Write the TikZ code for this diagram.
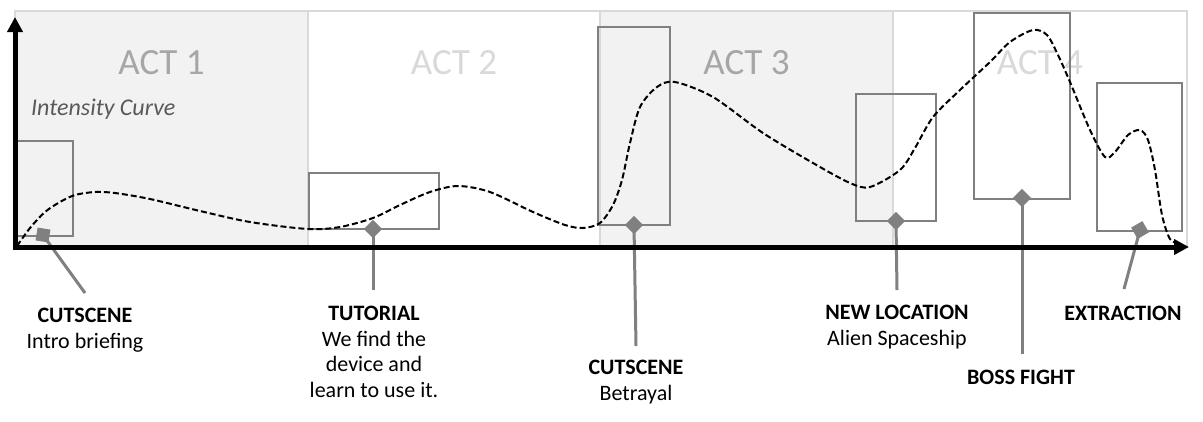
\documentclass[tikz,border=0pt]{standalone}
\usepackage{fontspec}
\setmainfont{Carlito}
\usetikzlibrary{arrows.meta}
\definecolor{actfill}{HTML}{F2F2F2}
\definecolor{actline}{HTML}{D9D9D9}
\definecolor{actdark}{HTML}{A6A6A6}
\definecolor{actlight}{HTML}{D9D9D9}
\definecolor{mgray}{HTML}{808080}
\definecolor{ctext}{HTML}{595959}
\tikzset{
  actframe/.style={draw=actline, line width=1.5pt},
  acttext/.style={anchor=base, inner sep=0pt, font=\fontsize{37}{40}\selectfont},
  beatbox/.style={draw=mgray, line width=2pt},
  marker/.style={draw=none, fill=mgray, shape=rectangle, minimum size=13pt, inner sep=0pt},
  leader/.style={draw=mgray, line width=3pt},
  lbl/.style={anchor=north, inner sep=0pt, align=center, font=\fontsize{22}{25.5}\selectfont},
  axis/.style={line width=5pt, -{Triangle[length=15pt,width=15pt]}},
  curve/.style={line width=2pt, dash pattern=on 6pt off 3pt}
}
\begin{document}
\begin{tikzpicture}[x=1pt,y=-1pt]
\useasboundingbox (0,0) rectangle (1203,421);
% acts
\draw[actframe, fill=actfill] (15,11) rectangle (308,247);
\draw[actframe, fill=white] (308,11) rectangle (600,247);
\draw[actframe, fill=actfill] (600,11) rectangle (893,247);
\draw[actframe, fill=white] (893,11) rectangle (1187,247);
\node[acttext, text=actdark] (a1) at (161.5,74) {ACT 1};
\node[acttext, text=actlight] (a2) at (454,74) {ACT 2};
\node[acttext, text=actdark] (a3) at (746.5,74) {ACT 3};
\node[acttext, text=actlight] (a4) at (1040,74) {ACT 4};
\node[anchor=base west, inner sep=0pt, text=ctext, font=\fontsize{24}{28}\selectfont\itshape] (ic) at (31,115) {Intensity Curve};
% beat boxes
\draw[beatbox] (17,141) rectangle (73,236);
\draw[beatbox] (309,173) rectangle (439,229);
\draw[beatbox] (598,27) rectangle (670,225);
\draw[beatbox] (856,94) rectangle (936,221);
\draw[beatbox] (974,13) rectangle (1070,199);
\draw[beatbox] (1097,83) rectangle (1182,231);
% curve
\draw[curve] plot[smooth, tension=0.5] coordinates {
(17,246) (30,228) (45,212) (60,202) (75,195) (95,192) (115,193) (150,199) (200,211) (250,222) (308,229)
(340,227) (373,218) (400,205) (430,192) (458,186) (490,192) (533,212) (565,225) (583,228)
(600,223) (613,205) (622,180) (630,143) (640,107) (657,87) (675,82) (713,97) (763,133) (813,163)
(850,183) (870,187) (900,170) (915,148) (933,117) (960,90) (990,62) (1010,42) (1033,30) (1047,35)
(1058,55) (1070,82) (1090,130) (1105,157) (1115,152) (1128,135) (1140,130) (1148,140) (1155,170)
(1162,215) (1170,239) (1180,244)};
% leader ends and labels
\coordinate (e1) at (85,293);
\coordinate (e2) at (373,290);
\coordinate (e3) at (636,346);
\coordinate (e4) at (897,290);
\coordinate (e5) at (1022,354);
\coordinate (e6) at (1124,289);
\node[lbl] (l1) at (85,308) {\textbf{CUTSCENE}\\Intro briefing};
\node[lbl] (l2) at (374,306) {\textbf{TUTORIAL}\\We find the\\device and\\learn to use it.};
\node[lbl] (l3) at (636,360) {\textbf{CUTSCENE}\\Betrayal};
\node[lbl] (l4) at (897,305) {\textbf{NEW LOCATION}\\Alien Spaceship};
\node[lbl] (l5) at (1021,370) {\textbf{BOSS FIGHT}};
\node[lbl] (l6) at (1123,306) {\textbf{EXTRACTION}};
% markers
\node[marker, rotate=-9] (m1) at (43,235) {};
\node[marker, rotate=45] (m2) at (373,229) {};
\node[marker, rotate=45] (m3) at (634,225) {};
\node[marker, rotate=45] (m4) at (896,221) {};
\node[marker, rotate=45] (m5) at (1022,198) {};
\node[marker, rotate=30] (m6) at (1140,230) {};
\draw[leader] (m1.center) -- (e1);
\draw[leader] (m2.center) -- (e2);
\draw[leader] (m3.center) -- (e3);
\draw[leader] (m4.center) -- (e4);
\draw[leader] (m5.center) -- (e5);
\draw[leader] (m6.center) -- (e6);
% axes
\coordinate (o) at (15,247);
\coordinate (ytip) at (15,17);
\coordinate (xtip) at (1189,247);
\draw[axis] (15,249.5) -- (ytip);
\draw[axis] (12.5,247) -- (xtip);
\end{tikzpicture}
\end{document}
